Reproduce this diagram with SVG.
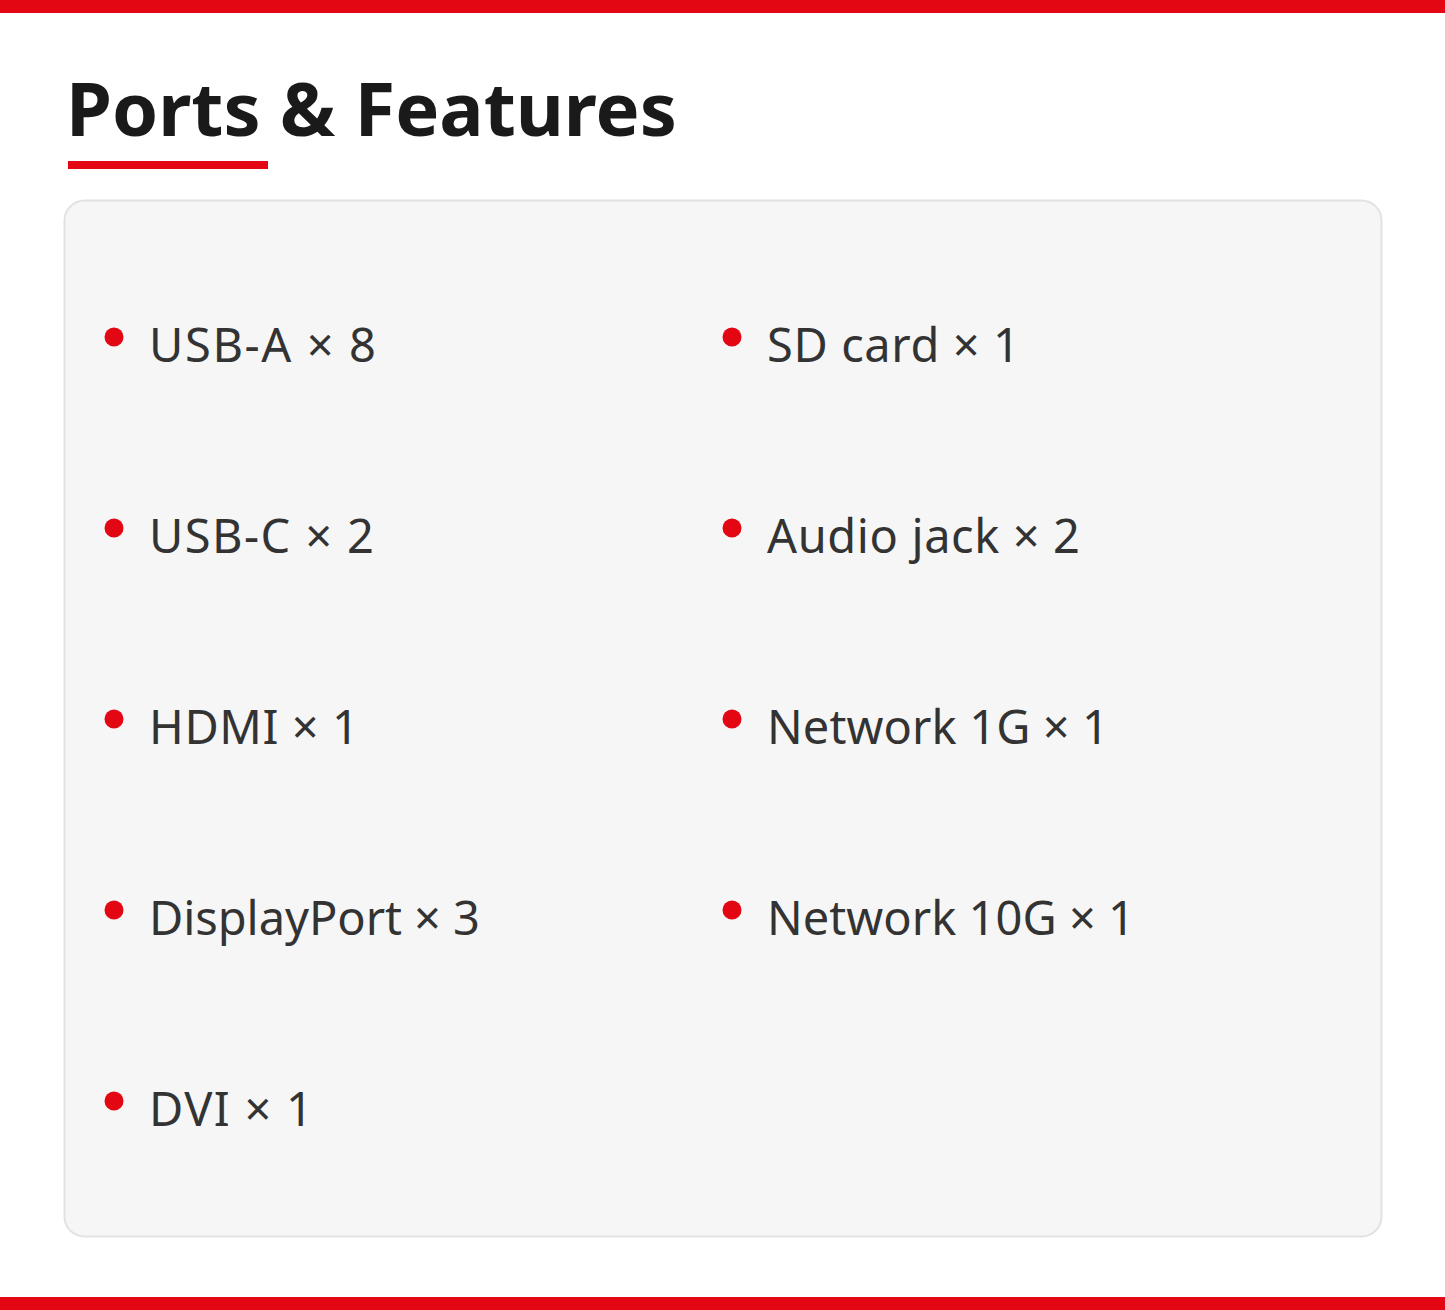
<svg xmlns="http://www.w3.org/2000/svg" width="1445" height="1310" viewBox="0 0 1445 1310">
<style>
.bar{fill:#e30613}
.title{font-family:"Noto Sans","Open Sans","DejaVu Sans",sans-serif;font-weight:700;font-size:74px;fill:#1a1a1a}
.item{font-family:"Noto Sans","Open Sans","DejaVu Sans",sans-serif;font-size:47px;fill:#333333}
.dot{fill:#e30613}
</style>
<rect width="1445" height="1310" fill="#ffffff"/>
<rect class="bar" x="0" y="0" width="1445" height="13"/>
<rect class="bar" x="0" y="1297" width="1445" height="13"/>
<g id="title">
<text class="title" x="66" y="136">Ports &amp; Features</text>
<rect class="bar" x="68" y="161" width="200" height="8"/>
</g>
<g id="panel">
<rect x="64.5" y="200.5" width="1317" height="1036" rx="20" fill="#f6f6f6" stroke="#e2e2e2" stroke-width="2"/>
</g>
<g id="item-usb-a"><circle class="dot" cx="114" cy="337" r="9.5"/><text class="item" x="149" y="362" textLength="227">USB-A × 8</text></g>
<g id="item-usb-c"><circle class="dot" cx="114" cy="528" r="9.5"/><text class="item" x="149" y="553" textLength="225">USB-C × 2</text></g>
<g id="item-hdmi"><circle class="dot" cx="114" cy="719" r="9.5"/><text class="item" x="149" y="744" textLength="210">HDMI × 1</text></g>
<g id="item-dp"><circle class="dot" cx="114" cy="910" r="9.5"/><text class="item" x="149" y="935" textLength="331">DisplayPort × 3</text></g>
<g id="item-dvi"><circle class="dot" cx="114" cy="1101" r="9.5"/><text class="item" x="149" y="1126" textLength="164">DVI × 1</text></g>
<g id="item-sd"><circle class="dot" cx="732" cy="337" r="9.5"/><text class="item" x="767" y="362" textLength="253">SD card × 1</text></g>
<g id="item-audio"><circle class="dot" cx="732" cy="528" r="9.5"/><text class="item" x="767" y="553" textLength="313">Audio jack × 2</text></g>
<g id="item-net1g"><circle class="dot" cx="732" cy="719" r="9.5"/><text class="item" x="767" y="744" textLength="342">Network 1G × 1</text></g>
<g id="item-net10g"><circle class="dot" cx="732" cy="910" r="9.5"/><text class="item" x="767" y="935" textLength="368">Network 10G × 1</text></g>
</svg>
